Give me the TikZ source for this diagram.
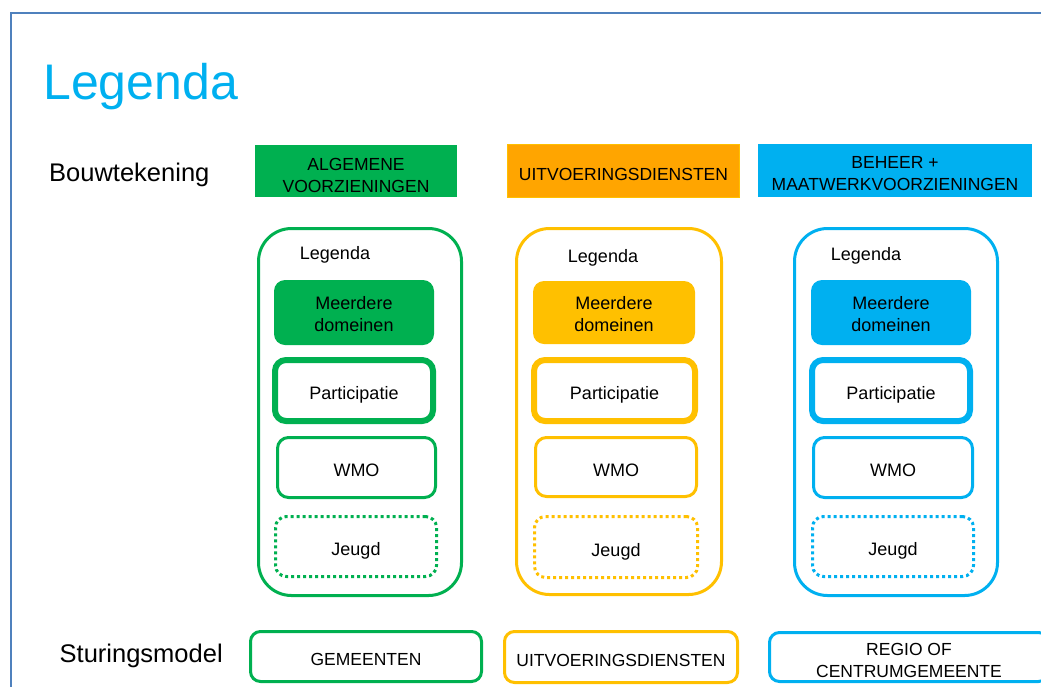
\documentclass[tikz,border=0pt]{standalone}
\usepackage{fontspec}
\setmainfont{Liberation Sans}
\definecolor{cgreen}{HTML}{00B050}
\definecolor{corange}{HTML}{FFC000}
\definecolor{chead}{HTML}{FFA500}
\definecolor{cblue}{HTML}{00B0F0}
\definecolor{cframe}{HTML}{4F81BD}
\newcommand\hdrfont{\fontsize{17.5}{22}\selectfont}
\newcommand\lblfont{\fontsize{18}{22}\selectfont}
\newcommand\sidefont{\fontsize{25.5}{30}\selectfont}
\newcommand\lift[1]{\rule{0pt}{#1}}
\begin{document}
\begin{tikzpicture}[x=1pt,y=-1pt,
  box/.style={rectangle, inner sep=0pt, align=center, text=black},
  single/.style={text height=18pt, text depth=0pt},
  hdr/.style={box, font=\hdrfont},
  colbox/.style={box, draw=#1, line width=3pt, rounded corners=33pt},
  filledbox/.style={box, font=\lblfont, fill=#1, rounded corners=11pt},
  thickbox/.style={box, single, font=\lblfont, draw=#1, line width=6pt, rounded corners=11pt},
  thinbox/.style={box, single, font=\lblfont, draw=#1, line width=3pt, rounded corners=11pt},
  dotbox/.style={box, single, font=\lblfont, draw=#1, line width=3pt, dash pattern=on 3pt off 3pt, rounded corners=11pt},
  bottombox/.style={box, font=\hdrfont, draw=#1, line width=3pt, rounded corners=10pt},
  sublbl/.style={anchor=base, inner sep=0pt, font=\lblfont, text=black},
  side/.style={anchor=base west, inner sep=0pt, font=\sidefont, text=black}
]
\clip (0,0) rectangle (1041,686);
\fill[white] (0,0) rectangle (1041,686);
% frame
\draw[cframe, line width=2pt] (11,700) -- (11,12.5) -- (1060,12.5);
% title
\node[anchor=base west, inner sep=0pt, text=cblue, font=\fontsize{50}{50}\selectfont] (title) at (43,99) {Legenda};
% side labels
\node[side] (bouw) at (49,181) {Bouwtekening};
\node[side] (sturing) at (59.5,662) {Sturingsmodel};
% headers
\node[hdr, fill=cgreen, minimum width=202pt, minimum height=52pt] (hg) at (356,171) {\lift{21.5pt}ALGEMENE\\VOORZIENINGEN};
\node[hdr, single, fill=chead, draw=corange, line width=1pt, minimum width=232pt, minimum height=53pt] (ho) at (623.5,171) {UITVOERINGSDIENSTEN};
\node[hdr, fill=cblue, minimum width=274pt, minimum height=53pt] (hb) at (895,170.5) {\lift{18.6pt}BEHEER +\\MAATWERKVOORZIENINGEN};
% green column
\node[colbox=cgreen, minimum width=203pt, minimum height=367pt] (gouter) at (360,412) {};
\node[sublbl] (glbl) at (335,259) {Legenda};
\node[filledbox=cgreen, minimum width=160pt, minimum height=65pt] (gmd) at (354,312.5) {\lift{17pt}Meerdere\\domeinen};
\node[thickbox=cgreen, minimum width=158pt, minimum height=61pt] (gpart) at (354,390.5) {Participatie};
\node[thinbox=cgreen, minimum width=158pt, minimum height=60pt] (gwmo) at (356.5,467.5) {WMO};
\node[dotbox=cgreen, minimum width=161pt, minimum height=60pt] (gjeugd) at (356,546.5) {Jeugd};
% orange column
\node[colbox=corange, minimum width=205pt, minimum height=366pt] (oouter) at (619,411.5) {};
\node[sublbl] (olbl) at (603,262) {Legenda};
\node[filledbox=corange, minimum width=162pt, minimum height=63pt] (omd) at (614,312.5) {\lift{17pt}Meerdere\\domeinen};
\node[thickbox=corange, minimum width=161pt, minimum height=61pt] (opart) at (614.5,390.5) {Participatie};
\node[thinbox=corange, minimum width=161pt, minimum height=59pt] (owmo) at (616,467) {WMO};
\node[dotbox=corange, minimum width=163pt, minimum height=61pt] (ojeugd) at (616,547) {Jeugd};
% blue column
\node[colbox=cblue, minimum width=203pt, minimum height=367pt] (bouter) at (896,412) {};
\node[sublbl] (blbl) at (866,260) {Legenda};
\node[filledbox=cblue, minimum width=160pt, minimum height=65pt] (bmd) at (891,312.5) {\lift{17pt}Meerdere\\domeinen};
\node[thickbox=cblue, minimum width=158pt, minimum height=61pt] (bpart) at (891,390.5) {Participatie};
\node[thinbox=cblue, minimum width=159pt, minimum height=60pt] (bwmo) at (893,467.5) {WMO};
\node[dotbox=cblue, minimum width=161pt, minimum height=60pt] (bjeugd) at (893,546.5) {Jeugd};
% bottom
\node[bottombox=cgreen, single, minimum width=231pt, minimum height=50pt] (sg) at (366,656.5) {GEMEENTEN};
\node[bottombox=corange, single, minimum width=233pt, minimum height=51pt] (so) at (621,657) {UITVOERINGSDIENSTEN};
\node[bottombox=cblue, minimum width=279pt, minimum height=49pt] (sb) at (909,657) {\lift{18.6pt}REGIO OF\\CENTRUMGEMEENTE};
\end{tikzpicture}
\end{document}
